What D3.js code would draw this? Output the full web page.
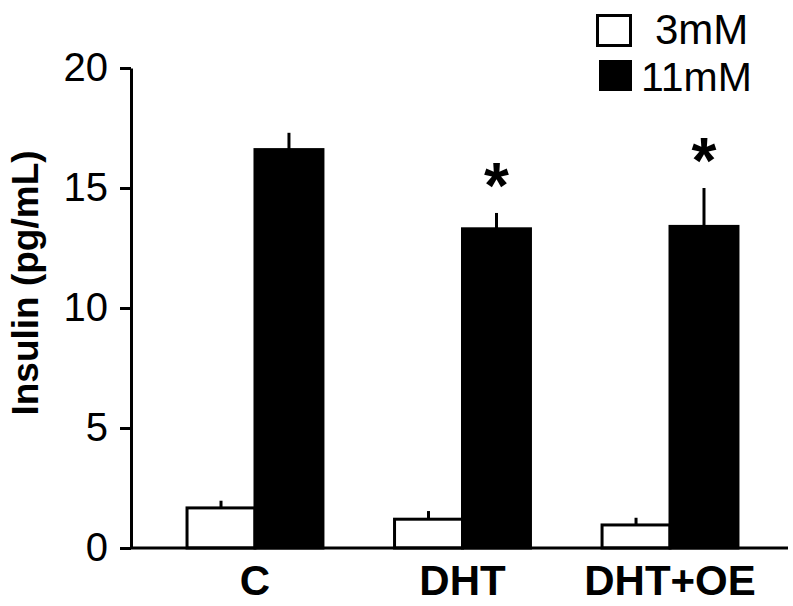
<!DOCTYPE html>
<html>
<head>
<meta charset="utf-8">
<script src="https://cdn.jsdelivr.net/npm/d3@7"></script>
<style>
  body { margin: 0; background: #fff; }
  svg { display: block; font-family: "Liberation Sans", Arial, sans-serif; }
</style>
</head>
<body>
<svg id="chart" width="793" height="606"></svg>
<script>
// groups and glucose levels
const groups = ['C', 'DHT', 'DHT+OE'];
const levels = ['3mM', '11mM'];

// mean insulin (pg/mL) and error, per group, in level order
const means3 = [1.67, 1.2, 0.96];
const errs3 = [0.3, 0.34, 0.3];
const means11 = [16.6, 13.3, 13.4];
const errs11 = [0.7, 0.66, 1.6];
const starred = [false, true, true];
const yTicks = [0, 5, 10, 15, 20];

const svg = d3.select('#chart');

const x = d3.scaleBand().domain(groups).range([131, 794])
  .paddingInner(0.345).paddingOuter(0.27);
const xSub = d3.scaleBand().domain(levels).range([0, x.bandwidth()]);
const y = d3.scaleLinear().domain([0, 20]).range([548, 68]);

const fill = d3.scaleOrdinal().domain(levels).range(['#fff', '#000']);

// build rows for drawing
const rows = [];
groups.forEach((g, i) => {
  rows.push({ group: g, level: '3mM', mean: means3[i], err: errs3[i] });
  rows.push({ group: g, level: '11mM', mean: means11[i], err: errs11[i], star: starred[i] });
});

// error bars (drawn first so bar tops cover them)
svg.append('g').selectAll('line.err')
  .data(rows)
  .join('line')
  .attr('class', 'err')
  .attr('x1', d => x(d.group) + xSub(d.level) + xSub.bandwidth() / 2)
  .attr('x2', d => x(d.group) + xSub(d.level) + xSub.bandwidth() / 2)
  .attr('y1', d => y(d.mean))
  .attr('y2', d => y(d.mean + d.err))
  .attr('stroke', '#000')
  .attr('stroke-width', 3);

// bars
svg.append('g').selectAll('rect.bar')
  .data(rows)
  .join('rect')
  .attr('class', 'bar')
  .attr('x', d => x(d.group) + xSub(d.level))
  .attr('y', d => y(d.mean))
  .attr('width', xSub.bandwidth())
  .attr('height', d => y(0) - y(d.mean))
  .attr('fill', d => fill(d.level))
  .attr('stroke', '#000')
  .attr('stroke-width', 3);

// significance stars
svg.append('g').selectAll('text.star')
  .data(rows.filter(d => d.star))
  .join('text')
  .attr('class', 'star')
  .attr('x', d => x(d.group) + xSub(d.level) + xSub.bandwidth() / 2)
  .attr('y', d => y(d.mean + d.err) - 5)
  .attr('text-anchor', 'middle')
  .attr('font-size', 64)
  .attr('font-weight', 'bold')
  .text('*');

// y axis
const yAxis = svg.append('g')
  .attr('transform', 'translate(131,0)')
  .call(d3.axisLeft(y).tickValues(yTicks).tickSize(11).tickSizeOuter(0).tickPadding(12));
yAxis.select('.domain').attr('stroke-width', 3);
yAxis.selectAll('.tick line').attr('stroke-width', 3);
yAxis.selectAll('.tick text')
  .attr('font-size', 40)
  .attr('font-family', '"Liberation Sans", Arial, sans-serif')
  .attr('fill', '#000');

// x axis baseline
svg.append('line')
  .attr('x1', 131).attr('x2', 788)
  .attr('y1', y(0)).attr('y2', y(0))
  .attr('stroke', '#000')
  .attr('stroke-width', 3);

// group labels
svg.append('g').selectAll('text.grp')
  .data(groups)
  .join('text')
  .attr('class', 'grp')
  .attr('x', d => x(d) + x.bandwidth() / 2)
  .attr('y', 595)
  .attr('text-anchor', 'middle')
  .attr('font-size', 42)
  .attr('font-weight', 'bold')
  .text(d => d);

// y title
svg.append('text')
  .attr('transform', 'translate(38,283) rotate(-90)')
  .attr('text-anchor', 'middle')
  .attr('font-size', 37)
  .attr('font-weight', 'bold')
  .text('Insulin (pg/mL)');

// legend
const legend = svg.append('g');
legend.append('rect')
  .attr('x', 597.5).attr('y', 15.5).attr('width', 33).attr('height', 30)
  .attr('fill', '#fff').attr('stroke', '#000').attr('stroke-width', 3);
legend.append('text')
  .attr('x', 655).attr('y', 44)
  .attr('font-size', 42)
  .text(levels[0]);
legend.append('rect')
  .attr('x', 599).attr('y', 60).attr('width', 33).attr('height', 31)
  .attr('fill', '#000');
legend.append('text')
  .attr('x', 641).attr('y', 91)
  .attr('font-size', 41)
  .text(levels[1]);
</script>
</body>
</html>
